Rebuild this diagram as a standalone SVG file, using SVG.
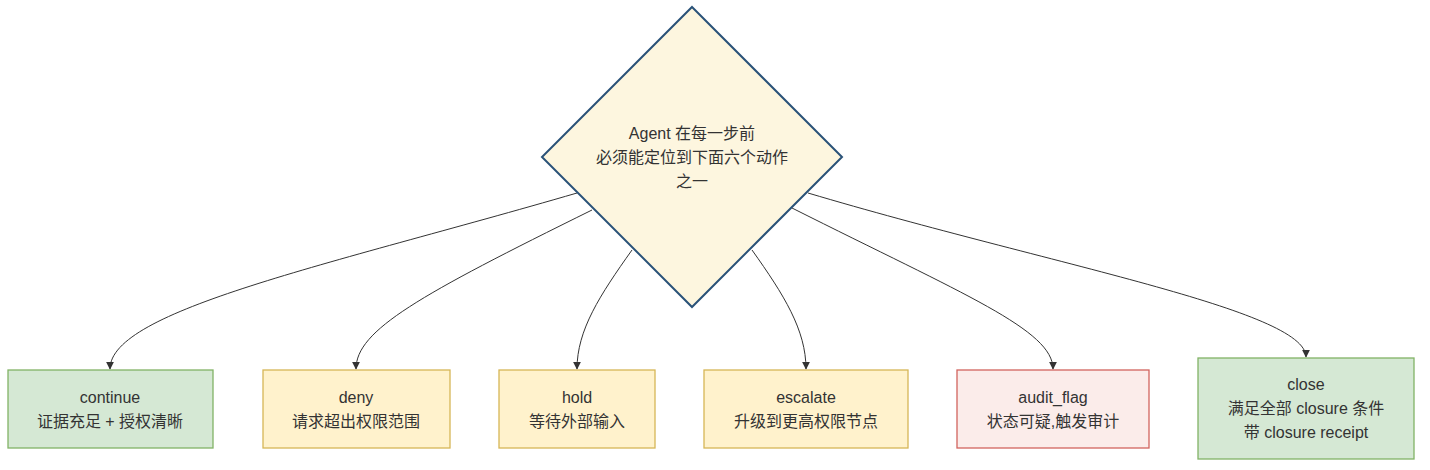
<svg xmlns="http://www.w3.org/2000/svg" width="1430" height="470" viewBox="0 0 1430 470">
<defs>
<marker id="arr" viewBox="0 0 10 10" refX="9" refY="5" markerWidth="8" markerHeight="8" orient="auto" markerUnits="userSpaceOnUse">
<path d="M0,0 L10,5 L0,10 z" fill="#333"/>
</marker>
<style>
text{font-family:"Liberation Sans","Noto Sans CJK SC",sans-serif;font-size:16px;fill:#333;text-anchor:middle;dominant-baseline:central}
.e{fill:none;stroke:#333;stroke-width:1;marker-end:url(#arr)}
.g{fill:#d5e8d4;stroke:#82b366;stroke-width:1.3}
.y{fill:#fff2cc;stroke:#d6b656;stroke-width:1.3}
.r{fill:#fbecea;stroke:#d2645e;stroke-width:1.3}
</style>
</defs>
<rect width="1430" height="470" fill="#fff"/>
<g id="connectors">
<path class="e" d="M577,193 C330,265 110,310 110,369"/>
<path class="e" d="M592,210 C420,295 356,330 356,369"/>
<path class="e" d="M632,250 C600,295 577,330 577,369"/>
<path class="e" d="M752,250 C784,295 806,330 806,369"/>
<path class="e" d="M792,208 C965,295 1053,330 1053,369"/>
<path class="e" d="M808,193 C1050,265 1306,310 1306,357"/>
</g>
<g id="decision">
<polygon points="692,7 842,157 692,307 542,157" fill="#fdf6df" stroke="#2a5278" stroke-width="2"/>
<text x="692" y="133">Agent 在每一步前</text>
<text x="692" y="157">必须能定位到下面六个动作</text>
<text x="692" y="181">之一</text>
</g>
<g id="continue">
<rect class="g" x="8" y="370" width="205" height="78"/>
<text x="110" y="397">continue</text>
<text x="110" y="421">证据充足 + 授权清晰</text>
</g>
<g id="deny">
<rect class="y" x="263" y="370" width="187" height="78"/>
<text x="356" y="397">deny</text>
<text x="356" y="421">请求超出权限范围</text>
</g>
<g id="hold">
<rect class="y" x="499" y="370" width="156" height="78"/>
<text x="577" y="397">hold</text>
<text x="577" y="421">等待外部输入</text>
</g>
<g id="escalate">
<rect class="y" x="704" y="370" width="204" height="78"/>
<text x="806" y="397">escalate</text>
<text x="806" y="421">升级到更高权限节点</text>
</g>
<g id="audit_flag">
<rect class="r" x="957" y="370" width="192" height="78"/>
<text x="1053" y="397">audit_flag</text>
<text x="1053" y="421">状态可疑,触发审计</text>
</g>
<g id="close">
<rect class="g" x="1198" y="358" width="216" height="101"/>
<text x="1306" y="384">close</text>
<text x="1306" y="408">满足全部 closure 条件</text>
<text x="1306" y="432">带 closure receipt</text>
</g>
</svg>
